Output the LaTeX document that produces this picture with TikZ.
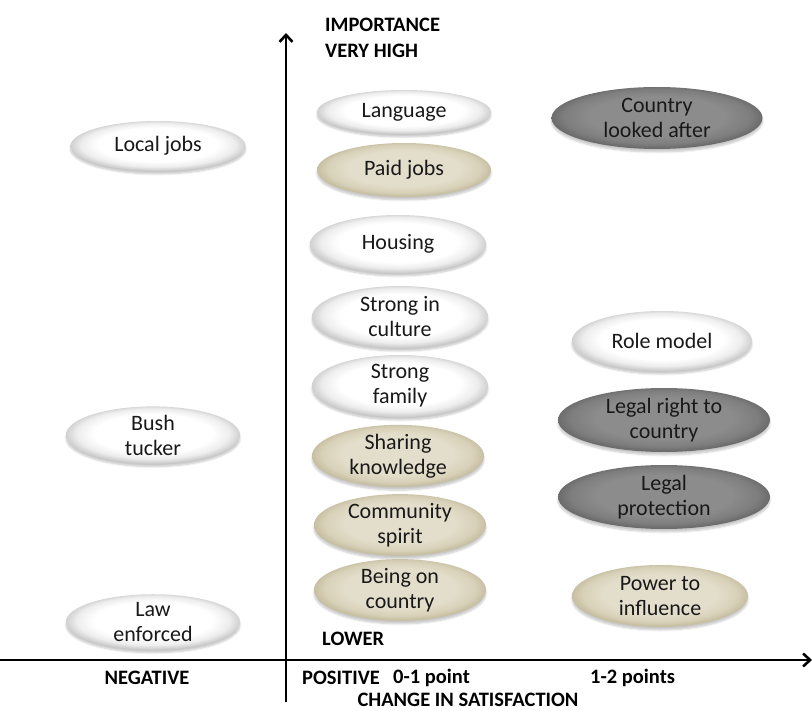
\documentclass[tikz,border=0pt]{standalone}
\usepackage{fontspec}
\setmainfont{Carlito}
\usetikzlibrary{shapes.geometric,arrows.meta,shadows.blur}

\definecolor{whitemid}{HTML}{EDEDED}
\definecolor{whiteedge}{HTML}{D0D0D0}
\definecolor{beigein}{HTML}{E3DECB}
\definecolor{beigemid}{HTML}{D8D1B9}
\definecolor{beigeedge}{HTML}{C6BFA2}
\definecolor{greyin}{HTML}{8C8C8C}
\definecolor{greymid}{HTML}{7E7E7E}
\definecolor{greyedge}{HTML}{6C6C6C}

% glossy fills: flat centre, soft darker rim
\pgfdeclareradialshading{glosswhite}{\pgfpoint{0bp}{2bp}}{color(0bp)=(white); color(17bp)=(white); color(22bp)=(whitemid); color(25bp)=(whiteedge); color(50bp)=(whiteedge)}
\pgfdeclareradialshading{glossbeige}{\pgfpoint{0bp}{2bp}}{color(0bp)=(beigein); color(16bp)=(beigein); color(22bp)=(beigemid); color(25bp)=(beigeedge); color(50bp)=(beigeedge)}
\pgfdeclareradialshading{glossgrey}{\pgfpoint{0bp}{2bp}}{color(0bp)=(greyin); color(16bp)=(greyin); color(22bp)=(greymid); color(25bp)=(greyedge); color(50bp)=(greyedge)}

\tikzset{
  bubble/.style={ellipse, inner sep=0pt, align=center,
    font=\fontsize{22}{25}\selectfont, text=black!90,
    blur shadow={shadow xshift=0pt, shadow yshift=-3pt, shadow opacity=22, shadow blur steps=6}},
  plain/.style={bubble, shading=glosswhite},
  beige/.style={bubble, shading=glossbeige},
  grey/.style={bubble, shading=glossgrey},
  axislabel/.style={font=\fontsize{20.5}{24}\selectfont\bfseries, inner sep=0pt},
  axis/.style={line width=2.6pt, -{Straight Barb[length=7pt,width=13pt,line width=2.6pt]}},
}

\begin{document}
\begin{tikzpicture}[x=1pt,y=-1pt]
\useasboundingbox (0,0) rectangle (812,711);

% axes
\coordinate (xs) at (0,660);
\coordinate (xe) at (812,660);
\coordinate (ys) at (286,702);
\coordinate (ye) at (286,33);
\draw[axis] (xs) -- (xe);
\draw[axis] (ys) -- (ye);

% axis labels
\node[axislabel, anchor=west] (imp) at (325,25) {IMPORTANCE};
\node[axislabel, anchor=west] (vh) at (325,51) {VERY HIGH};
\node[axislabel, anchor=west] (low) at (322,639) {LOWER};
\node[axislabel] (neg) at (147,678) {NEGATIVE};
\node[axislabel, anchor=west] (pos) at (302,678) {POSITIVE};
\node[axislabel, anchor=west] (p01) at (393,678) {0-1 point};
\node[axislabel, anchor=west] (p12) at (590,678) {1-2 points};
\node[axislabel] (chg) at (468,700) {CHANGE IN SATISFACTION};

% negative change
\node[plain, minimum width=175, minimum height=50] (localjobs) at (158,146) {Local jobs};
\node[plain, minimum width=174, minimum height=56] (bush) at (153,435) {Bush\\tucker};
\node[plain, minimum width=174, minimum height=54] (law) at (153,622) {Law\\enforced};

% 0-1 point
\node[plain, minimum width=174, minimum height=44] (language) at (404,112) {Language};
\node[beige, minimum width=174, minimum height=54] (paid) at (404,170) {Paid jobs};
\node[plain, minimum width=176, minimum height=58] (housing) at (398,244) {Housing};
\node[plain, minimum width=176, minimum height=62] (culture) at (400,317) {Strong in\\culture};
\node[plain, minimum width=176, minimum height=62] (family) at (400,386) {Strong\\family};
\node[beige, minimum width=172, minimum height=60] (sharing) at (398,456) {Sharing\\knowledge};
\node[beige, minimum width=172, minimum height=58] (community) at (400,525) {Community\\spirit};
\node[beige, minimum width=172, minimum height=58] (being) at (400,590) {Being on\\country};

% 1-2 points
\node[grey, minimum width=211, minimum height=62] (lookedafter) at (657,118) {Country\\looked after};
\node[plain, minimum width=180, minimum height=60] (role) at (662,341) {Role model};
\node[grey, minimum width=212, minimum height=64] (right) at (664,420) {Legal right to\\country};
\node[grey, minimum width=212, minimum height=64] (protect) at (664,497) {Legal\\protection};
\node[beige, minimum width=176, minimum height=62] (power) at (660,596) {Power to\\influence};
\end{tikzpicture}
\end{document}
